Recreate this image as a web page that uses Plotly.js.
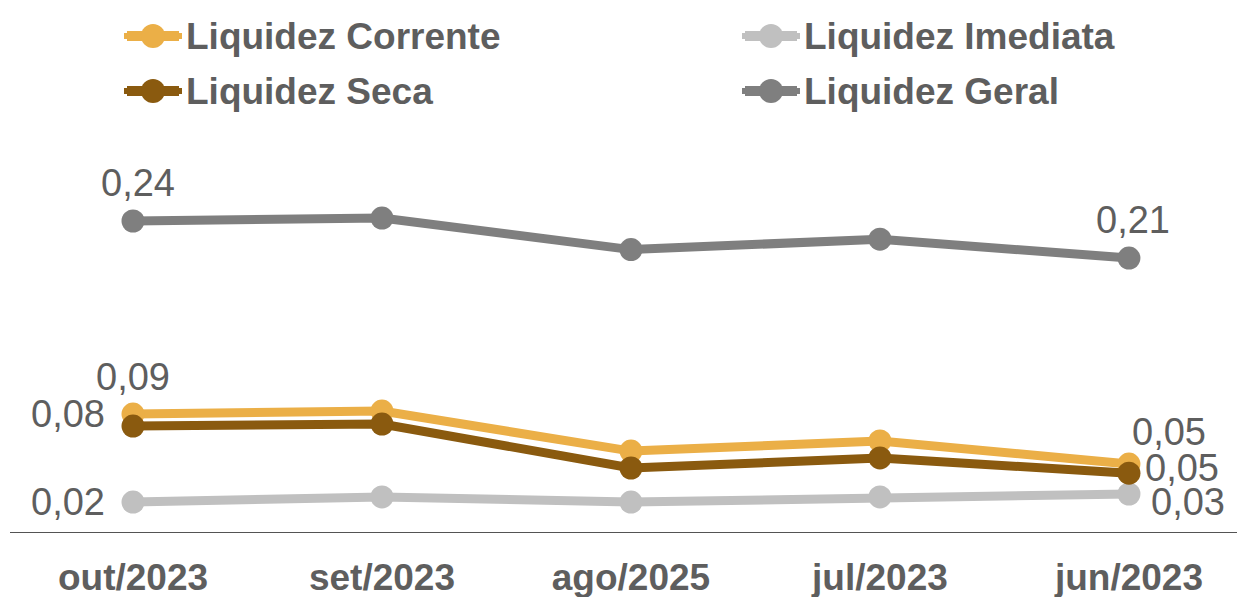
<!DOCTYPE html>
<html>
<head>
<meta charset="utf-8">
<script src="https://cdn.plot.ly/plotly-3.0.1.min.js"></script>
<style>html,body{margin:0;padding:0;background:#fff;}#chart{width:1237px;height:597px;}</style>
</head>
<body>
<div id="chart"></div>
<script>
var categories = ['out/2023', 'set/2023', 'ago/2025', 'jul/2023', 'jun/2023'];
var seriesNames = ['Liquidez Corrente', 'Liquidez Imediata', 'Liquidez Seca', 'Liquidez Geral'];
var liquidezCorrente = [0.0915, 0.0938, 0.063, 0.0708, 0.053];
var liquidezImediata = [0.0238, 0.0277, 0.0238, 0.0277, 0.030];
var liquidezSeca = [0.0823, 0.0838, 0.050, 0.0577, 0.046];
var liquidezGeral = [0.240, 0.2423, 0.218, 0.226, 0.2115];

var colors = ['#EBAF47', '#C0C0C0', '#8A5A0F', '#7F7F7F'];
var textColor = '#5E5E5E';
var FONT = 'Liberation Sans, Arial, sans-serif';
var xIdx = [0, 1, 2, 3, 4];

var W = 1237, H = 597, ML = 9, MR = 0, MT = 143, MB = 64;
var PW = W - ML - MR, PH = H - MT - MB;
function px2x(px) { return (px - ML) / PW; }
function py2y(py) { return (H - MB - py) / PH; }

function mk(name, y, color) {
  return {
    type: 'scatter', mode: 'lines+markers', name: name,
    x: xIdx, y: y, showlegend: false,
    line: {color: color, width: 9},
    marker: {color: color, size: 23},
    hoverinfo: 'skip'
  };
}
var allSeries = [liquidezCorrente, liquidezImediata, liquidezSeca, liquidezGeral];
var traces = allSeries.map(function (s, i) { return mk(seriesNames[i], s, colors[i]); });

function fmt(v) { return v.toFixed(2).replace('.', ','); }
function lab(series, i, xs, ys, xa) {
  return {x: i, y: series[i], xref: 'x', yref: 'y', text: fmt(series[i]), showarrow: false,
    xshift: xs, yshift: ys, xanchor: xa || 'center', yanchor: 'middle',
    font: {family: FONT, size: 38, color: textColor}};
}
var annotations = [
  lab(liquidezGeral, 0, 5, 38),
  lab(liquidezGeral, 4, 4, 38),
  lab(liquidezCorrente, 0, 0, 37),
  lab(liquidezSeca, 0, -26, 12, 'right'),
  lab(liquidezImediata, 0, -26, 0, 'right'),
  lab(liquidezCorrente, 4, 1, 32, 'left'),
  lab(liquidezSeca, 4, 14, 5, 'left'),
  lab(liquidezImediata, 4, 20, -8, 'left')
];

var shapes = [{type: 'line', xref: 'paper', yref: 'y', x0: px2x(10), x1: 1, y0: 0, y1: 0,
  line: {color: '#1a1a1a', width: 1.5}}];

// manual legend (2 columns x 2 rows)
var legPos = [[122, 36], [740, 36], [122, 91], [740, 91]];
seriesNames.forEach(function (n, i) {
  var lx = legPos[i][0], ly = legPos[i][1];
  shapes.push({type: 'line', xref: 'paper', yref: 'paper',
    x0: px2x(lx + 5), x1: px2x(lx + 57), y0: py2y(ly), y1: py2y(ly),
    line: {color: colors[i], width: 10}});
  shapes.push({type: 'line', xref: 'paper', yref: 'paper',
    x0: px2x(lx + 2), x1: px2x(lx + 60), y0: py2y(ly), y1: py2y(ly),
    line: {color: colors[i], width: 6}});
  shapes.push({type: 'circle', xref: 'paper', yref: 'paper',
    xsizemode: 'pixel', ysizemode: 'pixel', xanchor: px2x(lx + 31), yanchor: py2y(ly),
    x0: -12, x1: 12, y0: -12, y1: 12,
    fillcolor: colors[i], line: {width: 0}});
  annotations.push({xref: 'paper', yref: 'paper', x: px2x(lx + 62), y: py2y(ly),
    xanchor: 'left', yanchor: 'middle', showarrow: false, text: n,
    font: {family: FONT, size: 37, color: textColor, weight: 'bold'}});
});

var layout = {
  width: W, height: H,
  margin: {l: ML, r: MR, t: MT, b: MB},
  paper_bgcolor: '#fff', plot_bgcolor: '#fff',
  showlegend: false,
  xaxis: {
    range: [-0.498, 4.434], tickvals: xIdx, ticktext: categories,
    showgrid: false, zeroline: false, showline: false,
    ticks: 'outside', ticklen: 12, tickcolor: 'rgba(0,0,0,0)',
    tickfont: {family: FONT, size: 37, color: textColor, weight: 'bold'},
    fixedrange: true
  },
  yaxis: {range: [0, 0.3], visible: false, fixedrange: true},
  shapes: shapes,
  annotations: annotations
};
Plotly.newPlot('chart', traces, layout, {displayModeBar: false, staticPlot: true});
</script>
</body>
</html>
